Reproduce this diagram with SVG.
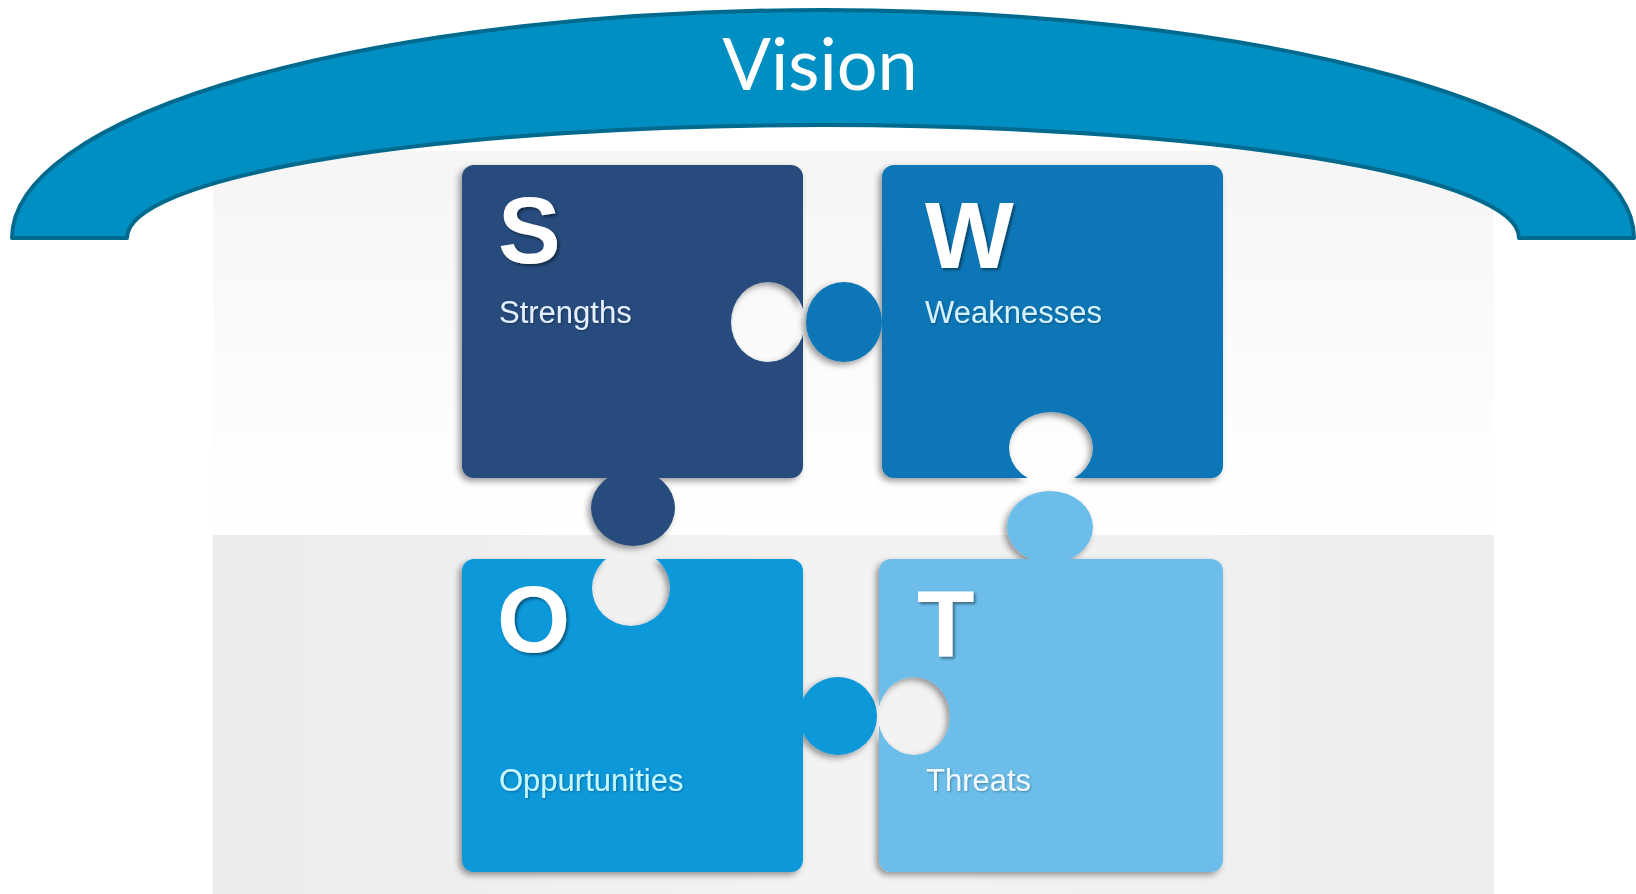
<svg xmlns="http://www.w3.org/2000/svg" width="1636" height="894" viewBox="0 0 1636 894">
<style>
.letter{font-family:"Liberation Sans",Arial,sans-serif;font-weight:bold;font-size:94px;fill:#ffffff;filter:url(#tshadow)}
.label{font-family:"Liberation Sans",Arial,sans-serif;font-size:31px;filter:url(#lshadow)}
.vision{font-family:Lato,"Open Sans",sans-serif;font-size:72px;fill:#ffffff}
</style>
<defs>
<linearGradient id="bgTop" x1="0" y1="0" x2="0" y2="1">
<stop offset="0" stop-color="#f5f5f5"/><stop offset="0.6" stop-color="#fcfcfc"/><stop offset="1" stop-color="#ffffff"/>
</linearGradient>
<linearGradient id="bgBot" x1="0" y1="0" x2="1" y2="0">
<stop offset="0" stop-color="#ececec"/><stop offset="0.5" stop-color="#f3f3f3"/><stop offset="1" stop-color="#ededed"/>
</linearGradient>
<filter id="shadow" x="-15%" y="-15%" width="130%" height="130%">
<feDropShadow dx="-3" dy="3" stdDeviation="3" flood-color="#000" flood-opacity="0.4"/>
</filter>
<filter id="tshadow" x="-20%" y="-20%" width="140%" height="140%">
<feDropShadow dx="2" dy="2" stdDeviation="1.5" flood-color="#000" flood-opacity="0.45"/>
</filter>
<filter id="lshadow" x="-10%" y="-20%" width="120%" height="140%">
<feDropShadow dx="1" dy="1" stdDeviation="1" flood-color="#000" flood-opacity="0.3"/>
</filter>
<mask id="mS" maskUnits="userSpaceOnUse" x="0" y="0" width="1636" height="894">
<rect width="1636" height="894" fill="#fff"/><ellipse cx="768" cy="322" rx="37" ry="40" fill="#000"/>
</mask>
<mask id="mW" maskUnits="userSpaceOnUse" x="0" y="0" width="1636" height="894">
<rect width="1636" height="894" fill="#fff"/><ellipse cx="1051" cy="448" rx="42" ry="36" fill="#000"/>
</mask>
<mask id="mO" maskUnits="userSpaceOnUse" x="0" y="0" width="1636" height="894">
<rect width="1636" height="894" fill="#fff"/><ellipse cx="631" cy="588" rx="39" ry="38" fill="#000"/>
</mask>
<mask id="mT" maskUnits="userSpaceOnUse" x="0" y="0" width="1636" height="894">
<rect width="1636" height="894" fill="#fff"/><ellipse cx="914" cy="716" rx="36" ry="39" fill="#000"/>
</mask>
</defs>
<rect width="1636" height="894" fill="#ffffff"/>
<g id="background">
<rect x="213" y="151" width="1281" height="384" fill="url(#bgTop)"/>
<rect x="213" y="535" width="1281" height="359" fill="url(#bgBot)"/>
</g>
<g id="node-s">
<g filter="url(#shadow)"><g mask="url(#mS)" fill="#264c7c">
<rect x="462" y="165" width="341" height="313" rx="12"/>
<ellipse cx="633" cy="508" rx="42" ry="38"/>
</g></g>
<text class="letter" x="498" y="263">S</text>
<text class="label" x="499" y="323" fill="#e4efff">Strengths</text>
</g>
<g id="node-w">
<g filter="url(#shadow)"><g mask="url(#mW)" fill="#1176b6">
<rect x="882" y="165" width="341" height="313" rx="12"/>
<ellipse cx="844" cy="322" rx="38" ry="40"/>
</g></g>
<text class="letter" x="925" y="268">W</text>
<text class="label" x="925" y="323" fill="#d6f2ff">Weaknesses</text>
</g>
<g id="node-o">
<g filter="url(#shadow)"><g mask="url(#mO)" fill="#0b98da">
<rect x="462" y="559" width="341" height="313" rx="12"/>
<ellipse cx="838" cy="716" rx="39" ry="39"/>
</g></g>
<text class="letter" x="497" y="652">O</text>
<text class="label" x="499" y="791" fill="#c8f7ff">Oppurtunities</text>
</g>
<g id="node-t">
<g filter="url(#shadow)"><g mask="url(#mT)" fill="#6cbde9">
<rect x="879" y="559" width="344" height="313" rx="12"/>
<ellipse cx="1050" cy="527" rx="43" ry="36"/>
</g></g>
<text class="letter" x="917" y="657">T</text>
<text class="label" x="926" y="791" fill="#f2f9ff">Threats</text>
</g>
<g id="connectors"/>
<g id="vision">
<path d="M 12 238 A 811 228 0 0 1 1634 238 L 1519 238 A 696 113 0 0 0 127 238 Z" fill="#008fc2" stroke="#006a8e" stroke-width="4" stroke-linejoin="round"/>
<text class="vision" x="820" y="90" text-anchor="middle">Vision</text>
</g>
</svg>
